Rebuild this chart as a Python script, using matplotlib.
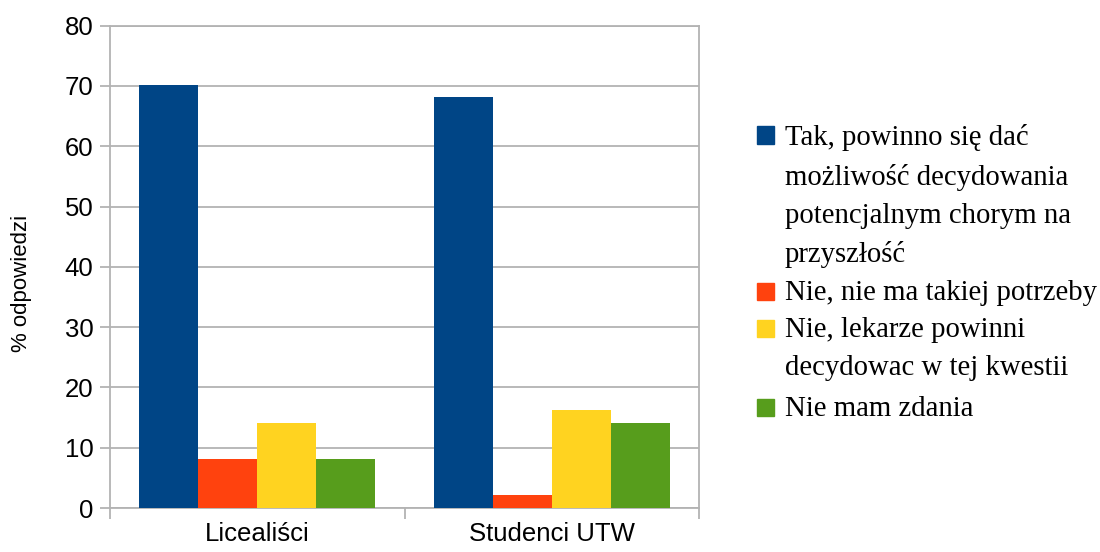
import numpy as np
import matplotlib.pyplot as plt
from matplotlib.patches import Rectangle

groups = ['Licealiści', 'Studenci UTW']
answers = ['Tak, powinno się dać\nmożliwość decydowania\npotencjalnym chorym na\nprzyszłość',
           'Nie, nie ma takiej potrzeby',
           'Nie, lekarze powinni\ndecydowac w tej kwestii',
           'Nie mam zdania']
tak = [70.2, 68.2]
nie_potrzeby = [8.1, 2.2]
nie_lekarze = [14.1, 16.3]
brak_zdania = [8.1, 14.1]

colors = ['#004586', '#ff420e', '#ffd320', '#579d1c']
grid_c = '#b3b3b3'

W, H = 1100, 552
fig = plt.figure(figsize=(W / 100, H / 100), dpi=100)
ax = fig.add_axes([110 / W, 1 - 508 / H, 589 / W, (508 - 25.7) / H])

x = np.arange(len(groups))
w = 0.2
series = [tak, nie_potrzeby, nie_lekarze, brak_zdania]
for i, (vals, c) in enumerate(zip(series, colors)):
    ax.bar(x + (i - 1.5) * w, vals, width=w, color=c, zorder=3)

ax.set_xlim(-0.5, 1.5)
ax.set_ylim(0, 80)
ax.set_yticks(range(0, 81, 10))
ax.yaxis.grid(True, color=grid_c, linewidth=1.3, zorder=0)
for s in ax.spines.values():
    s.set_color(grid_c)
    s.set_linewidth(1.3)

ax.set_xticks(x)
ax.set_xticklabels(groups)
ax.set_xticks([-0.5, 0.5, 1.5], minor=True)
ax.tick_params(axis='x', which='major', length=0, pad=10, labelsize=18.5)
ax.tick_params(axis='x', which='minor', length=8, width=1.3, color=grid_c)
ax.tick_params(axis='y', length=7, width=1.3, color=grid_c, pad=5, labelsize=18.5)
ax.set_ylabel('% odpowiedzi', fontsize=16)
ax.yaxis.set_label_coords(-0.132, 0.465)
for lab in ax.get_xticklabels() + ax.get_yticklabels():
    lab.set_family('Liberation Sans')
ax.yaxis.label.set_family('Liberation Sans')

# legend drawn by hand so each square sits on the first line of its entry
entry_y = [136, 292, 329, 408]
sq = 17
for lbl, c, yc in zip(answers, colors, entry_y):
    fig.add_artist(Rectangle((757 / W, 1 - (yc + sq / 2 - 1) / H), sq / W, sq / H,
                             transform=fig.transFigure, color=c))
    fig.text(785 / W, 1 - (yc - 12) / H, lbl, ha='left', va='top',
             family='Liberation Serif', fontsize=20.7, linespacing=1.6,
             transform=fig.transFigure)

fig.savefig('out.png', dpi=100)
